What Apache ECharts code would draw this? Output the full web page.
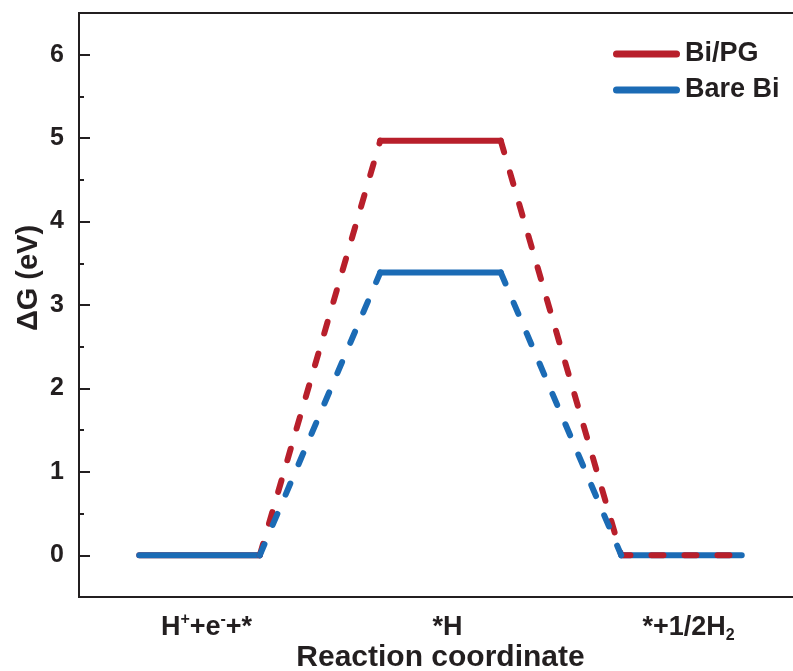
<!DOCTYPE html>
<html>
<head>
<meta charset="utf-8">
<script src="https://cdn.jsdelivr.net/npm/echarts@6/dist/echarts.min.js"></script>
<style>
  html, body { margin: 0; padding: 0; background: #fff; }
  #chart { width: 793px; height: 671px; }
</style>
</head>
<body>
<div id="chart"></div>
<script>
// reaction steps (label text as rich-text strings)
const stages = ["{n|H}{sup|+}{n|+e}{sup|-}{n|+*}", "{n|*H}", "{n|*+1/2H}{sub|2}"];
const stageStart = [0, 2, 4]; // each level is 1 unit wide
const biPG = [0, 4.97, 0];
const bareBi = [0, 3.39, 0];
const yMajor = [0, 1, 2, 3, 4, 5, 6];
const yMinor = [0.5, 1.5, 2.5, 3.5, 4.5, 5.5];

const red = "#B81F2B";
const blue = "#1B6BB5";
const ink = "#231f20";
const font = "Liberation Sans, Arial, sans-serif";

// flat levels, broken between stages
function levels(vals, upto) {
  const out = [];
  for (let i = 0; i < upto; i++) {
    if (i > 0) out.push("-");
    out.push([stageStart[i], vals[i]], [stageStart[i] + 1, vals[i]]);
  }
  return out;
}
// dashed links from the end of one level to the start of the next
function links(vals) {
  const out = [];
  for (let i = 0; i < vals.length - 1; i++) {
    if (i > 0) out.push("-");
    out.push([stageStart[i] + 1, vals[i]], [stageStart[i + 1], vals[i + 1]]);
  }
  return out;
}

const chart = echarts.init(document.getElementById("chart"));

const lineBase = { type: "line", showSymbol: false, symbol: "none", silent: true, connectNulls: false };

chart.setOption({
  animation: false,
  grid: {
    left: 79, top: 13, width: 723, height: 584,
    outerBoundsMode: "none", containLabel: false,
    show: true, borderColor: ink, borderWidth: 2
  },
  legend: {
    left: 613,
    top: 40,
    padding: 0,
    orient: "vertical",
    itemWidth: 67,
    itemHeight: 7,
    itemGap: 8,
    icon: "path://M3.5,0 H63.5 A3.5,3.5 0 0 1 63.5,7 H3.5 A3.5,3.5 0 0 1 3.5,0 Z",
    textStyle: { fontFamily: font, fontWeight: "bold", fontSize: 27, color: ink, lineHeight: 28 },
    data: [
      { name: "Bi/PG", itemStyle: { color: red } },
      { name: "Bare Bi", itemStyle: { color: blue } }
    ]
  },
  xAxis: {
    type: "value",
    min: -0.5,
    max: 5.5,
    name: "Reaction coordinate",
    nameLocation: "middle",
    nameGap: 46,
    nameMoveOverlap: false,
    nameTextStyle: { fontFamily: font, fontWeight: "bold", fontSize: 30, color: ink },
    splitLine: { show: false },
    axisTick: { show: false },
    axisLine: { show: true, onZero: false, lineStyle: { color: ink, width: 2 } },
    axisLabel: {
      customValues: stageStart.map(s => s + 0.5),
      margin: 15,
      padding: [0, 0, 0, 14],
      formatter: v => stages[stageStart.indexOf(v - 0.5)] || "",
      rich: {
        n: { fontFamily: font, fontWeight: "bold", fontSize: 27, color: ink, lineHeight: 32 },
        sup: { fontFamily: font, fontWeight: "bold", fontSize: 16, color: ink, lineHeight: 16, verticalAlign: "top" },
        sub: { fontFamily: font, fontWeight: "bold", fontSize: 16, color: ink, lineHeight: 14, verticalAlign: "bottom" }
      }
    }
  },
  yAxis: [
    {
      type: "value",
      min: -0.5,
      max: 6.5,
      name: "ΔG (eV)",
      nameLocation: "middle",
      nameGap: 36,
      nameMoveOverlap: false,
      nameTextStyle: { fontFamily: font, fontWeight: "bold", fontSize: 29, color: ink, padding: [0, 0, 0, 54] },
      splitLine: { show: false },
      axisLine: { show: true, onZero: false, lineStyle: { color: ink, width: 2 } },
      axisTick: { show: true, inside: true, length: 11, customValues: yMajor, lineStyle: { color: ink, width: 2 } },
      axisLabel: { customValues: yMajor, margin: 15, fontFamily: font, fontWeight: "bold", fontSize: 25, color: ink }
    },
    {
      // minor ticks only
      type: "value",
      position: "left",
      min: -0.5,
      max: 6.5,
      splitLine: { show: false },
      axisLine: { show: false, onZero: false },
      axisTick: { show: true, inside: true, length: 5, customValues: yMinor, lineStyle: { color: ink, width: 2 } },
      axisLabel: { show: false }
    }
  ],
  series: [
    Object.assign({}, lineBase, {
      name: "Bi/PG", z: 2,
      data: levels(biPG, 2),
      lineStyle: { color: red, width: 6, cap: "round" },
      itemStyle: { color: red }
    }),
    Object.assign({}, lineBase, {
      name: "Bare Bi", z: 3,
      data: levels(bareBi, 3),
      lineStyle: { color: blue, width: 6, cap: "round" },
      itemStyle: { color: blue }
    }),
    Object.assign({}, lineBase, {
      name: "Bi/PG links", z: 4,
      // last Bi/PG level is drawn dashed over the blue one
      data: links(biPG).concat([[stageStart[2], biPG[2]], [stageStart[2] + 1, biPG[2]]]),
      lineStyle: { color: red, width: 6, cap: "round", type: [12, 21] }
    }),
    Object.assign({}, lineBase, {
      name: "Bare Bi links", z: 5,
      data: links(bareBi),
      lineStyle: { color: blue, width: 6, cap: "round", type: [12, 21] }
    })
  ]
});
</script>
</body>
</html>
